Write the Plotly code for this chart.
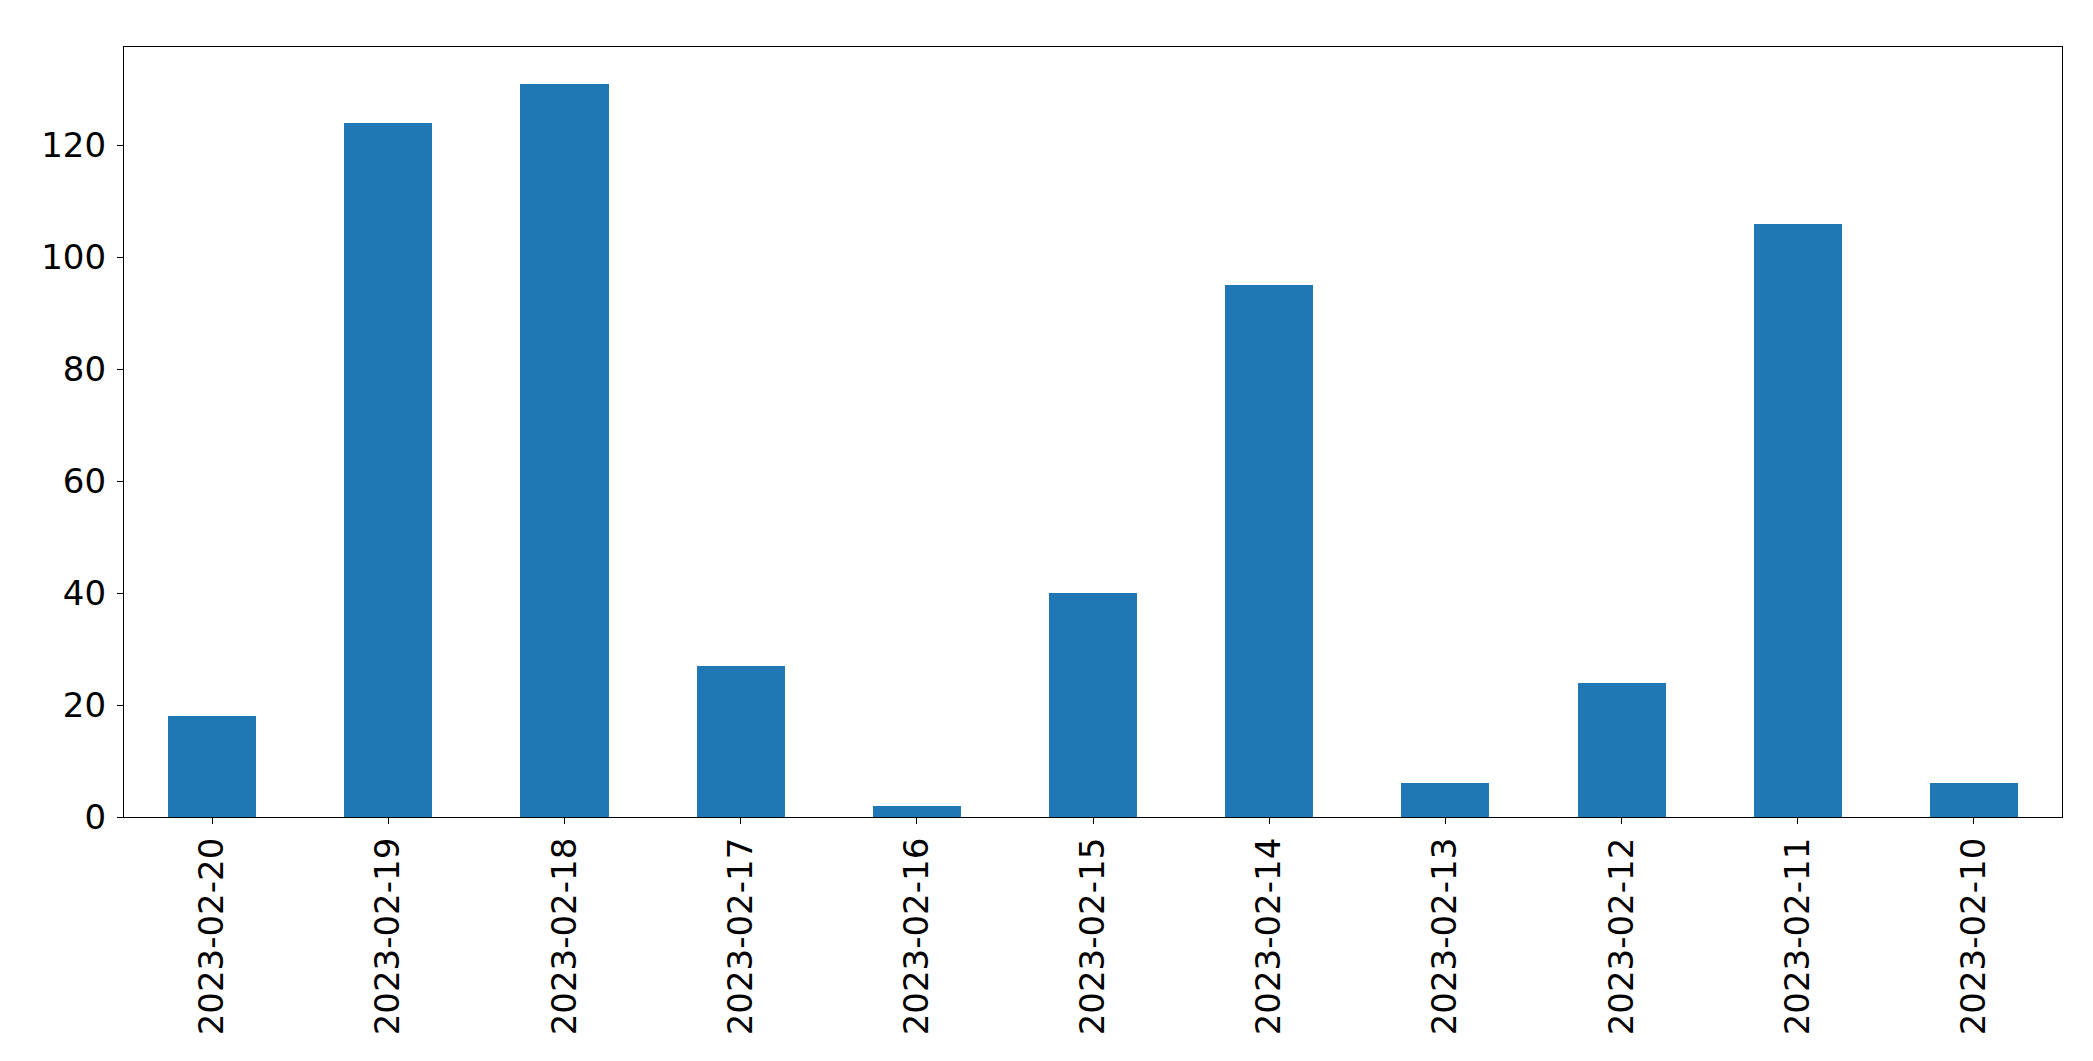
import plotly.graph_objects as go

dates = ["2023-02-20", "2023-02-19", "2023-02-18", "2023-02-17", "2023-02-16", "2023-02-15",
         "2023-02-14", "2023-02-13", "2023-02-12", "2023-02-11", "2023-02-10"]
counts = [18, 124, 131, 27, 2, 40, 95, 6, 24, 106, 6]
y_ticks = [0, 20, 40, 60, 80, 100, 120]

fig = go.Figure(go.Bar(x=dates, y=counts, width=0.5, marker=dict(color="#1f77b4", line=dict(width=0))))

fig.update_layout(
    width=2093, height=1061,
    margin=dict(l=116, r=39, t=39, b=252),
    paper_bgcolor="white", plot_bgcolor="white",
    font=dict(family="DejaVu Sans", size=34, color="black"),
    showlegend=False,
    bargap=0,
)
fig.update_xaxes(
    type="category", range=[-0.5, len(dates) - 0.5],
    tickangle=-90, ticks="outside", ticklen=6, tickwidth=1.3, tickcolor="black",
    showline=True, linecolor="black", linewidth=1.3, mirror=True, showgrid=False,
    ticklabelstandoff=0,
)
fig.update_yaxes(
    range=[0, max(counts) * 1.05], tickvals=y_ticks,
    ticks="outside", ticklen=6, tickwidth=1.3, tickcolor="black",
    showline=True, linecolor="black", linewidth=1.3, mirror=True, showgrid=False, zeroline=False,
    ticklabelstandoff=4,
)

fig.write_html("out.html")
